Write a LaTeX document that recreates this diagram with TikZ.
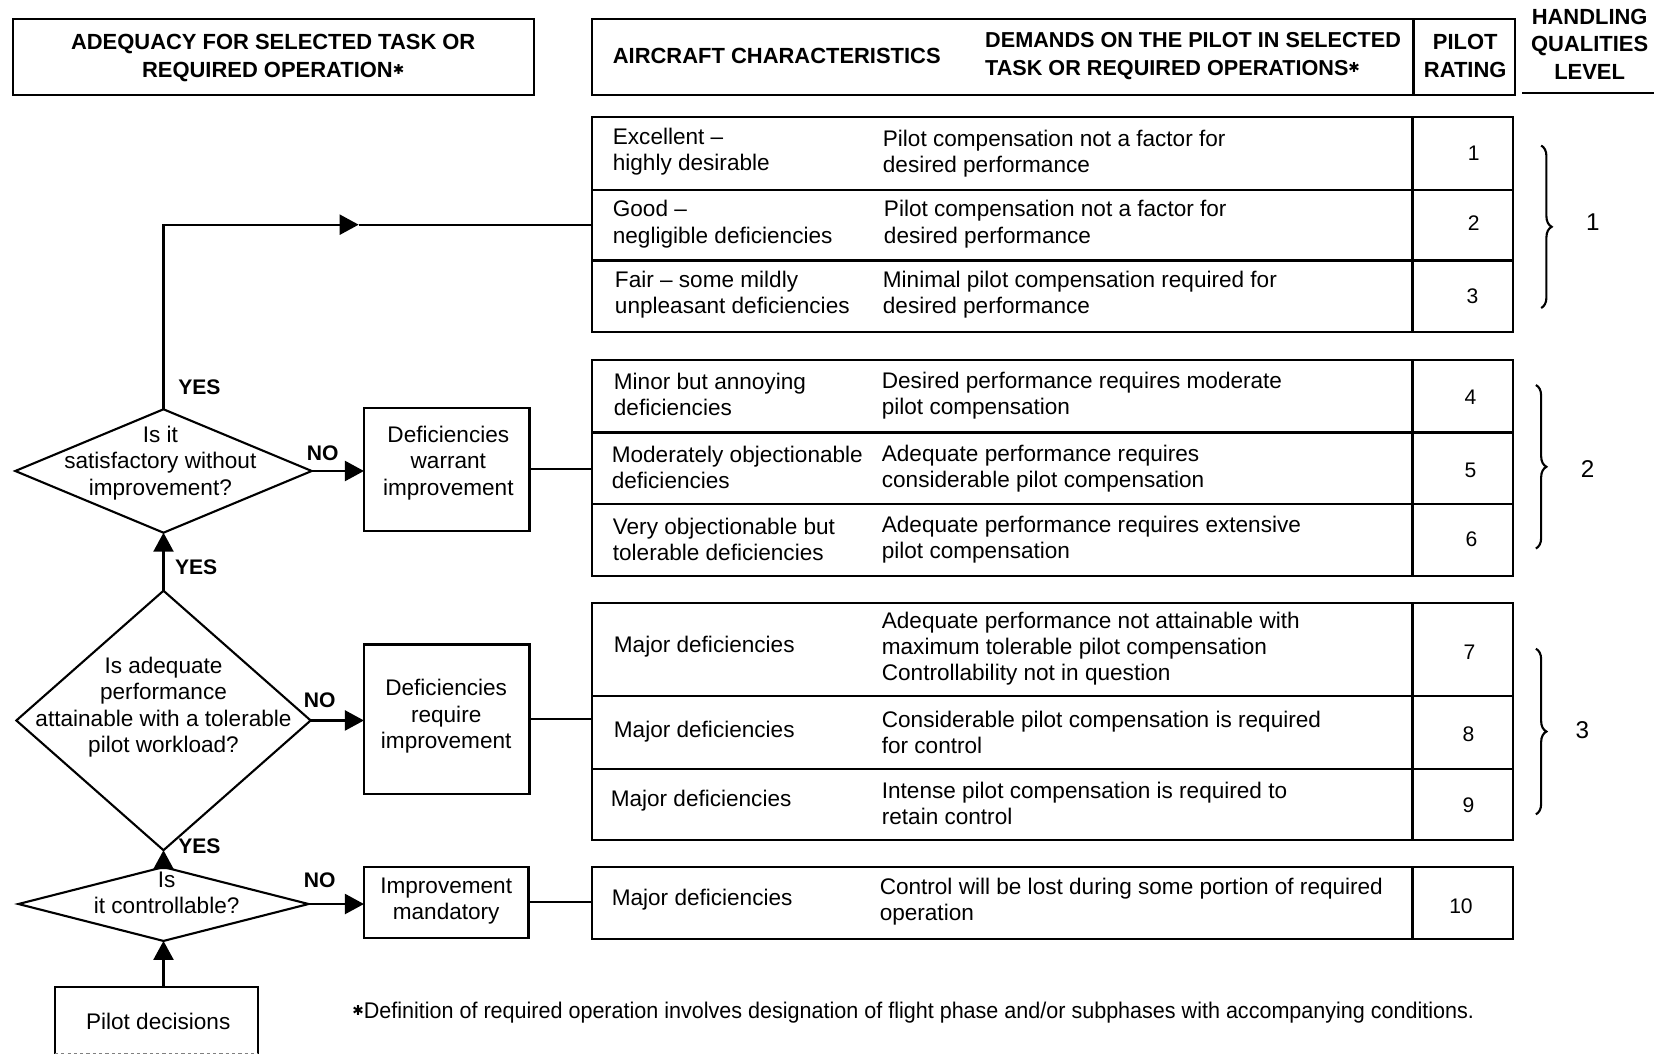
\documentclass[tikz,border=0pt]{standalone}
\usepackage{fontspec}
\setmainfont{Liberation Sans}
\newfontfamily\narrowfont[FakeStretch=0.95]{Liberation Sans}
\newfontfamily\symfont{DejaVu Sans}
\usetikzlibrary{shapes.geometric,arrows.meta,decorations.pathreplacing,calc}
% heavy asterisk used in the headings and the footnote
\newcommand\opstar{{\symfont\fontsize{13}{13}\selectfont\raisebox{2.5pt}{\char"2731}}}

\begin{document}
\begin{tikzpicture}[x=1pt,y=-1pt,line width=2pt,
  body/.style={font=\fontsize{21.4}{25}\selectfont, inner sep=0pt, align=left},
  head/.style={font=\fontsize{20.8}{26}\selectfont\bfseries, inner sep=0pt, align=center},
  lbl/.style={font=\fontsize{20}{24}\selectfont\bfseries, inner sep=0pt},
  rate/.style={font=\fontsize{20}{24}\selectfont, inner sep=0pt},
  lvl/.style={font=\fontsize{23}{27}\selectfont, inner sep=0pt},
  frame/.style={draw, rectangle, inner sep=0pt, outer sep=0pt},
  decision/.style={draw, diamond, inner sep=0pt, outer sep=0pt},
  flow/.style={-{Triangle[length=18pt,width=19pt]}},
  lvlbrace/.style={decorate, decoration={brace, amplitude=10pt}},
]
\useasboundingbox (0,0) rectangle (1568,1001);

% ---------- headings ----------
\node[frame, minimum width=494, minimum height=72] (hl) at (259,54) {};
\node[head] (hlt) at (259,55) {ADEQUACY FOR SELECTED TASK OR\\REQUIRED OPERATION\opstar};
\node[frame, minimum width=875, minimum height=72] (hr) at (998.5,54) {};
\draw (1340,18) -- (1340,90);
\node[head, anchor=west] (hac) at (580,53) {AIRCRAFT CHARACTERISTICS};
\node[head, anchor=west, align=left, font=\fontsize{20.5}{26}\selectfont\bfseries] (hdm) at (933,53) {DEMANDS ON THE PILOT IN SELECTED\\TASK OR REQUIRED OPERATIONS\opstar};
\node[head] (hpr) at (1389,53) {PILOT\\RATING};
\node[head] (hhq) at (1507,42) {HANDLING\\QUALITIES\\LEVEL};
\draw (1443,88) -- (1568,88);

% ---------- rating table ----------
\node[frame, minimum width=873, minimum height=204] (g1) at (997.5,213) {};
\node[frame, minimum width=873, minimum height=205] (g2) at (997.5,443.5) {};
\node[frame, minimum width=873, minimum height=224] (g3) at (997.5,684) {};
\node[frame, minimum width=873, minimum height=68] (g4) at (997.5,856) {};
\foreach \g in {g1,g2,g3,g4}
  \draw (\g.north west -| 1339,0) -- (\g.south west -| 1339,0);
\foreach \yy in {180,247,410,478,660,729}
  \draw (561,\yy) -- (1434,\yy);

% level 1
\node[body, anchor=west] (c1) at (580,143.5) {Excellent --\\highly desirable};
\node[body, anchor=west] (p1) at (836,145.5) {Pilot compensation not a factor for\\desired performance};
\node[rate] (n1) at (1397,145) {1};
\node[body, anchor=west] (c2) at (580,212.5) {Good --\\negligible deficiencies};
\node[body, anchor=west] (p2) at (837,212.5) {Pilot compensation not a factor for\\desired performance};
\node[rate] (n2) at (1397,212) {2};
\node[body, anchor=west] (c3) at (582,279.5) {Fair -- some mildly\\unpleasant deficiencies};
\node[body, anchor=west] (p3) at (836,279.5) {Minimal pilot compensation required for\\desired performance};
\node[rate] (n3) at (1396,281) {3};
% level 2
\node[body, anchor=west] (c4) at (581,374) {Minor but annoying\\deficiencies};
\node[body, anchor=west] (p4) at (835,375) {Desired performance requires moderate\\pilot compensation};
\node[rate] (n4) at (1394,377) {4};
\node[body, anchor=west] (c5) at (579,443) {Moderately objectionable\\deficiencies};
\node[body, anchor=west] (p5) at (835,444) {Adequate performance requires\\considerable pilot compensation};
\node[rate] (n5) at (1394,446) {5};
\node[body, anchor=west] (c6) at (580,511.5) {Very objectionable but\\tolerable deficiencies};
\node[body, anchor=west] (p6) at (835,511.5) {Adequate performance requires extensive\\pilot compensation};
\node[rate] (n6) at (1395,511) {6};
% level 3
\node[body, anchor=west] (c7) at (581,613) {Major deficiencies};
\node[body, anchor=west] (p7) at (835,615) {Adequate performance not attainable with\\maximum tolerable pilot compensation\\Controllability not in question};
\node[rate] (n7) at (1393,618) {7};
\node[body, anchor=west] (c8) at (581,694) {Major deficiencies};
\node[body, anchor=west] (p8) at (835,694.5) {Considerable pilot compensation is required\\for control};
\node[rate] (n8) at (1392,696) {8};
\node[body, anchor=west] (c9) at (578,759) {Major deficiencies};
\node[body, anchor=west] (p9) at (835,761.5) {Intense pilot compensation is required to\\retain control};
\node[rate] (n9) at (1392,763) {9};
% uncontrollable
\node[body, anchor=west] (c10) at (579,853) {Major deficiencies};
\node[body, anchor=west] (p10) at (833,854.5) {Control will be lost during some portion of required\\operation};
\node[rate] (n10) at (1385,859) {10};

% handling qualities levels
\draw[lvlbrace] (1461,138) -- (1461,292);
\node[lvl] (l1) at (1510,211) {1};
\draw[lvlbrace] (1456,365) -- (1456,520);
\node[lvl] (l2) at (1505,445) {2};
\draw[lvlbrace] (1456,615) -- (1456,772);
\node[lvl] (l3) at (1500,692) {3};

% ---------- decision flow ----------
\node[decision, minimum width=281, minimum height=117] (d1) at (155,446.5) {};
\node[body, align=center] (d1t) at (152,439) {Is it\\satisfactory without\\improvement?};
\node[frame, minimum width=157, minimum height=116] (bw) at (423.5,445) {};
\node[body, align=center] (bwt) at (425,439) {Deficiencies\\warrant\\improvement};

\node[decision, minimum width=279, minimum height=246] (d2) at (155,683) {};
\node[body, align=center] (d2t) at (155,670.5) {Is adequate\\performance\\attainable with a tolerable\\pilot workload?};
\node[frame, minimum width=157, minimum height=142] (br) at (423.5,682) {};
\node[body, align=center] (brt) at (423,679) {Deficiencies\\require\\improvement};

\node[decision, minimum width=275, minimum height=70] (d3) at (155,857) {};
\node[body, align=center] (d3t) at (158,846.5) {Is\\it controllable?};
\node[frame, minimum width=156, minimum height=67] (bm) at (423,855.5) {};
\node[body, align=center] (bmt) at (423,854) {Improvement\\mandatory};

\node[inner sep=0pt, outer sep=0pt, minimum width=193, minimum height=63] (pd) at (148.5,967.5) {};
\draw (pd.south west) -- (pd.north west) -- (pd.north east) -- (pd.south east);
\draw[line width=0.6pt, gray, dashed] (pd.south west) -- (pd.south east);
\node[body] (pdt) at (150,968) {Pilot decisions};

% connectors
\coordinate (ymid) at (340,213);
\draw[flow] (d1.north) |- (ymid);
\draw (ymid) -- (g1.west);
\draw[flow] (d1.east) -- (d1.east -| bw.west);
\draw (bw.east) -- (bw.east -| g2.west);
\draw[flow] (d2.north) -- (d1.south);
\draw[flow] (d2.east) -- (d2.east -| br.west);
\draw (br.east) -- (br.east -| g3.west);
\draw[flow] (d3.north) -- (d2.south);
\draw[flow] (d3.east) -- (d3.east -| bm.west);
\draw (bm.east) -- (bm.east -| g4.west);
\draw[flow] (d3.south |- pd.north) -- (d3.south);

% branch labels
\node[lbl] (y1) at (189,367) {YES};
\node[lbl] (y2) at (186,538) {YES};
\node[lbl] (y3) at (189,802) {YES};
\node[lbl] (no1) at (306,430) {NO};
\node[lbl] (no2) at (303,664) {NO};
\node[lbl] (no3) at (303,834) {NO};

% footnote
\node[inner sep=0pt, anchor=west, font=\narrowfont\fontsize{21.5}{25}\selectfont] (fn) at (333,960)
  {\opstar Definition of required operation involves designation of flight phase and/or subphases with accompanying conditions.};
\end{tikzpicture}
\end{document}
